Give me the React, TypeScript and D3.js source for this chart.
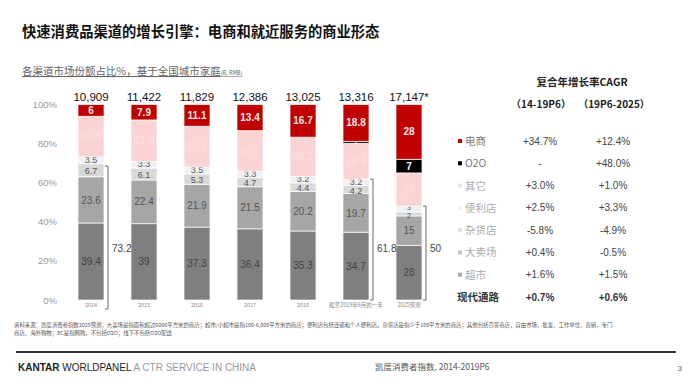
import React from "react";
import * as d3 from "d3";

const categories = ["2014", "2015", "2016", "2017", "2018", "截至2019年6月的一年", "2025预测"];
const totals = ["10,909", "11,422", "11,829", "12,386", "13,025", "13,316", "17,147*"];
const supermarket = [39.4, 39, 37.3, 36.4, 35.3, 34.7, 28];
const hypermarket = [23.6, 22.4, 21.9, 21.5, 20.2, 19.7, 15];
const grocery = [6.7, 6.1, 5.3, 4.7, 4.4, 4.2, 2];
const convenience = [3.5, 3.3, 3.5, 3.3, 3.2, 3.2, 3];
const others = [20.8, 21.3, 20.9, 20.7, 20.2, 18.4, 17];
const o2o = [0, 0, 0, 0, 0, 1, 7];
const ecommerce = [6, 7.9, 11.1, 13.4, 16.7, 18.8, 28];
const yTicks = [0, 20, 40, 60, 80, 100];

const brackets = [
  { idx: 0, label: "73.2", top: 68.5, bottomExtra: 9 },
  { idx: 5, label: "61.8", top: 61.8, bottomExtra: 0 },
  { idx: 6, label: "50", top: 48, bottomExtra: 0 },
];

const legendNames = ["电商", "O2O", "其它", "便利店", "杂货店", "大卖场", "超市"];
const cagr1 = ["+34.7%", "-", "+3.0%", "+2.5%", "-5.8%", "+0.4%", "+1.6%"];
const cagr2 = ["+12.4%", "+48.0%", "+1.0%", "+3.3%", "-4.9%", "-0.5%", "+1.5%"];
const modernLabel = "现代通路";
const modern1 = "+0.7%";
const modern2 = "+0.6%";

const seriesKeys = ["supermarket", "hypermarket", "grocery", "convenience", "others", "o2o", "ecommerce"];
const seriesArrays: Record<string, number[]> = { supermarket, hypermarket, grocery, convenience, others, o2o, ecommerce };
const colors: Record<string, string> = {
  supermarket: "#7f7f7f",
  hypermarket: "#a6a6a6",
  grocery: "#d9d9d9",
  convenience: "#f0f0f0",
  others: "#fbd3d3",
  o2o: "#000000",
  ecommerce: "#c00000",
};
const labelColors: Record<string, string> = {
  supermarket: "#444",
  hypermarket: "#555",
  grocery: "#555",
  convenience: "#555",
  others: "#ffffff",
  o2o: "#ffffff",
  ecommerce: "#ffe6e6",
};
const legendSquare = ["#c00000", "#000000", "#e6e6e6", "#f4f4f4", "#e0e0e0", "#c8c8c8", "#a8a8a8"];

const font = "'Liberation Sans', Arial, 'Noto Sans CJK SC', sans-serif";
const narrow = "'Liberation Sans Narrow', 'Liberation Sans', Arial, sans-serif";
const cjk = "'Noto Sans CJK SC', 'Liberation Sans', sans-serif";

export default function App() {
  const W = 696, H = 390;
  const y = d3.scaleLinear().domain([0, 100]).range([300, 104.5]);
  const x = d3.scalePoint<string>().domain(categories).range([91, 409]);
  const bw = 26;

  const table = categories.map((c, i) => {
    const row: Record<string, any> = { cat: c };
    seriesKeys.forEach((k) => (row[k] = seriesArrays[k][i]));
    return row;
  });
  const stacked = d3.stack<any>().keys(seriesKeys)(table);

  const rowY = d3.scaleLinear().domain([0, 7]).range([141, 297]);

  return (
    <svg width={W} height={H} style={{ position: "absolute", left: 0, top: 0, background: "#fff" }}>
      <rect width={W} height={H} fill="#fff" />
      {/* title */}
      <text x={22} y={37} fontFamily={cjk} fontWeight="bold" fontSize={14.3} fill="#111">
        快速消费品渠道的增长引擎：电商和就近服务的商业形态
      </text>
      <text x={22} y={75} fontFamily={cjk} fontSize={10.5} fill="#666" textDecoration="underline">
        各渠道市场份额占比%，基于全国城市家庭
        <tspan fontSize={5.5}>(B, RMB)</tspan>
      </text>

      {/* y axis labels */}
      {yTicks.map((t) => (
        <text key={t} x={57} y={y(t) + 3.5} textAnchor="end" fontFamily={font} fontSize={9.5} fill="#999">
          {t}%
        </text>
      ))}

      {/* bars */}
      {stacked.map((s) => (
        <g key={s.key}>
          {s.map((d, i) => {
            const v = d[1] - d[0];
            if (v <= 0) return null;
            const cx = x(categories[i])!;
            const y0 = y(d[0]), y1 = y(d[1]);
            const small = s.key === "grocery" || s.key === "convenience";
            const isRed = s.key === "ecommerce";
            const isO2O = s.key === "o2o";
            const fs = i === 6 && small ? 7 : isO2O && v < 3 ? 6 : small ? 9 : 10;
            const sh = i === 6 ? 1.6 : 0.8;
            const shift = small ? (s.key === "convenience" ? -sh : sh) : 0;
            return (
              <g key={i}>
                <rect x={cx - bw / 2} y={y1} width={bw} height={y0 - y1} fill={colors[s.key]} stroke="#fff" strokeWidth={0.7} />
                <text
                  x={cx}
                  y={(y0 + y1) / 2 + fs * 0.36 + shift}
                  textAnchor="middle"
                  fontFamily={font}
                  fontSize={fs}
                  fontWeight={isRed || isO2O ? "bold" : "normal"}
                  fill={labelColors[s.key]}
                  opacity={s.key === "others" ? 0.3 : 1}
                >
                  {String(v.toFixed(1)).replace(/\.0$/, "")}
                </text>
              </g>
            );
          })}
        </g>
      ))}

      {/* totals */}
      {categories.map((c, i) => (
        <text key={c} x={x(c)!} y={101} textAnchor="middle" fontFamily={font} fontSize={11.5} fill="#111">
          {totals[i]}
        </text>
      ))}

      {/* x labels */}
      {categories.map((c) => (
        <text key={c} x={x(c)!} y={307} textAnchor="middle" fontFamily={cjk} fontSize={5.5} fill="#888">
          {c}
        </text>
      ))}

      {/* brackets */}
      {brackets.map((b) => {
        const bx = x(categories[b.idx])! + bw / 2 + 4;
        const top = y(b.top);
        const bot = y(0) + b.bottomExtra;
        return (
          <g key={b.label}>
            <path d={`M${bx - 3},${top} H${bx} V${bot} H${bx - 3}`} fill="none" stroke="#444" strokeWidth={0.8} />
            <text x={bx + 4} y={252} fontFamily={font} fontSize={10} fill="#444">
              {b.label}
            </text>
          </g>
        );
      })}

      {/* CAGR table */}
      <text x={582} y={86} textAnchor="middle" fontFamily={cjk} fontWeight="bold" fontSize={10.5} fill="#222">
        复合年增长率CAGR
      </text>
      <text x={541} y={108} textAnchor="middle" fontFamily={cjk} fontWeight="bold" fontSize={10} fill="#222">
        （14-19P6）
      </text>
      <text x={614} y={108} textAnchor="middle" fontFamily={cjk} fontWeight="bold" fontSize={10} fill="#222">
        （19P6-2025）
      </text>
      {legendNames.map((n, i) => (
        <g key={n}>
          <rect x={458} y={rowY(i) - 2} width={4} height={4} fill={legendSquare[i]} />
          <text x={465} y={rowY(i) + 4} fontFamily={cjk} fontSize={10.5} fill={i < 2 ? "#777" : "#aaa"}>
            {n}
          </text>
          <text x={540} y={rowY(i) + 3.5} textAnchor="middle" fontFamily={font} fontSize={10} fill="#444">
            {cagr1[i]}
          </text>
          <text x={613} y={rowY(i) + 3.5} textAnchor="middle" fontFamily={font} fontSize={10} fill="#444">
            {cagr2[i]}
          </text>
        </g>
      ))}
      <text x={457} y={rowY(7) + 4} fontFamily={cjk} fontWeight="bold" fontSize={10.5} fill="#333">
        {modernLabel}
      </text>
      <text x={540} y={rowY(7) + 3.5} textAnchor="middle" fontFamily={font} fontWeight="bold" fontSize={10} fill="#333">
        {modern1}
      </text>
      <text x={613} y={rowY(7) + 3.5} textAnchor="middle" fontFamily={font} fontWeight="bold" fontSize={10} fill="#333">
        {modern2}
      </text>

      {/* footnote */}
      <text x={14} y={327} fontFamily={cjk} fontSize={5.4} fill="#555">
        资料来源：凯度消费者指数2025预测；大卖场是指面积超过6000平方米的商店；超市/小超市是指100-6,000平方米的商店；便利店包括连锁和个人便利店。杂货店是指少于100平方米的商店；其他包括百货商店，自由市场，批发，工作单位，直销，专门
      </text>
      <text x={14} y={335} fontFamily={cjk} fontSize={5.4} fill="#555">
        商店，海外购物；EC是指网购，不包括O2O；线下不包括O2O配送
      </text>
      <line x1={16} x2={676} y1={352} y2={352} stroke="#333" strokeWidth={2} />
      <text x={18} y={371} fontFamily={narrow} fontSize={10} fill="#222">
        <tspan fontWeight="bold">KANTAR</tspan>
        <tspan> WORLDPANEL</tspan>
        <tspan fill="#999"> A CTR SERVICE IN CHINA</tspan>
      </text>
      <text x={375} y={370} fontFamily={cjk} fontSize={8.5} fill="#555">
        凯度消费者指数, 2014-2019P6
      </text>
      <text x={682} y={371} textAnchor="end" fontFamily={font} fontSize={8} fill="#666">
        3
      </text>
    </svg>
  );
}
